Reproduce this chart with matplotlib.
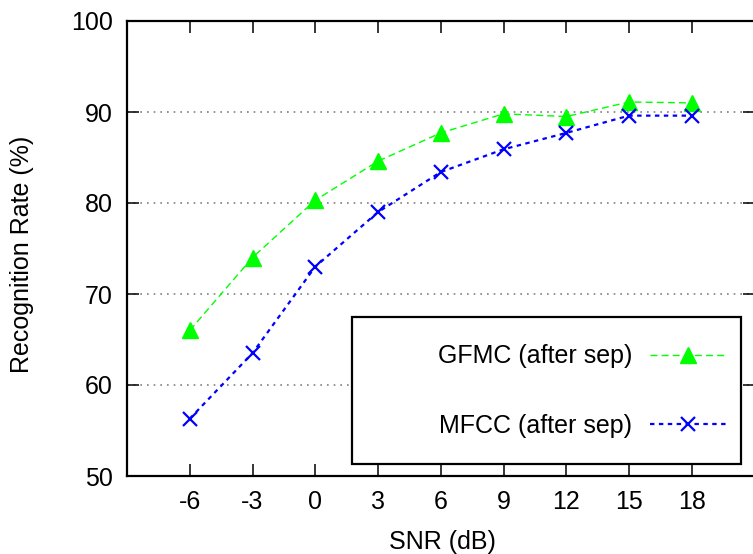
import matplotlib
matplotlib.use('Agg')
import matplotlib.pyplot as plt
from matplotlib.patches import Rectangle

plt.rcParams['font.family'] = ['Liberation Sans', 'DejaVu Sans']

# data
snr        = [-6, -3, 0, 3, 6, 9, 12, 15, 18]
gfmc_after = [66.0, 74.0, 80.3, 84.6, 87.7, 89.8, 89.5, 91.1, 91.0]
mfcc_after = [56.3, 63.5, 73.0, 79.0, 83.4, 85.9, 87.7, 89.6, 89.6]
yticks     = [50, 60, 70, 80, 90, 100]

fontsize = 18
W, H = 753, 554

fig = plt.figure(figsize=(W/100, H/100), dpi=100)
ax = fig.add_axes([127/W, 1-476/H, (W-127)/W + 0.002, (476-21)/H])

ax.plot(snr, gfmc_after, color='#00ff00', ls=(0, (5, 3)), lw=1.0,
        marker='^', ms=12, mec='#00ff00', mfc='#00ff00', label='GFMC (after sep)')
ax.plot(snr, mfcc_after, color='#0000ff', ls=(0, (2, 2)), lw=1.6,
        marker='x', ms=10, mew=1.6, label='MFCC (after sep)')

ax.set_xlim(-9, 21)
ax.set_ylim(50, 100)
ax.set_xticks(snr)
ax.set_xticklabels([str(s) for s in snr])
ax.set_yticks(yticks)

for y in yticks[1:-1]:
  ax.axhline(y, color='#808080', ls=(0, (1, 3)), lw=1.2, zorder=0)

ax.tick_params(axis='both', direction='in', top=True, right=True, length=8.6, width=1.1,
               labelsize=fontsize)
ax.tick_params(axis='x', pad=10)
ax.tick_params(axis='y', pad=10)
for sp in ax.spines.values():
  sp.set_linewidth(1.6)

fig.text(442/W, 1-542/H, 'SNR (dB)', fontsize=fontsize, ha='center', va='center')
fig.text(22/W, 1-254/H, 'Recognition Rate (%)', fontsize=fontsize, ha='center', va='center',
         rotation=90)

# legend box (gnuplot style, wider than its content)
box = Rectangle((352/W, 1-464/H), (741-352)/W, (464-317)/H, transform=fig.transFigure,
                facecolor='white', edgecolor='black', lw=1.6, zorder=4, clip_on=False)
ax.add_patch(box)

leg = ax.legend(loc='center right', bbox_to_anchor=(727/W, 1-391/H), bbox_transform=fig.transFigure,
                fontsize=fontsize, markerfirst=False, handlelength=3.1, labelspacing=1.8,
                borderpad=0, borderaxespad=0, handletextpad=0.7, frameon=False)
leg.set_zorder(5)
for t in leg.get_texts():
  t.set_ha('right')

fig.savefig('out.png', dpi=100)
